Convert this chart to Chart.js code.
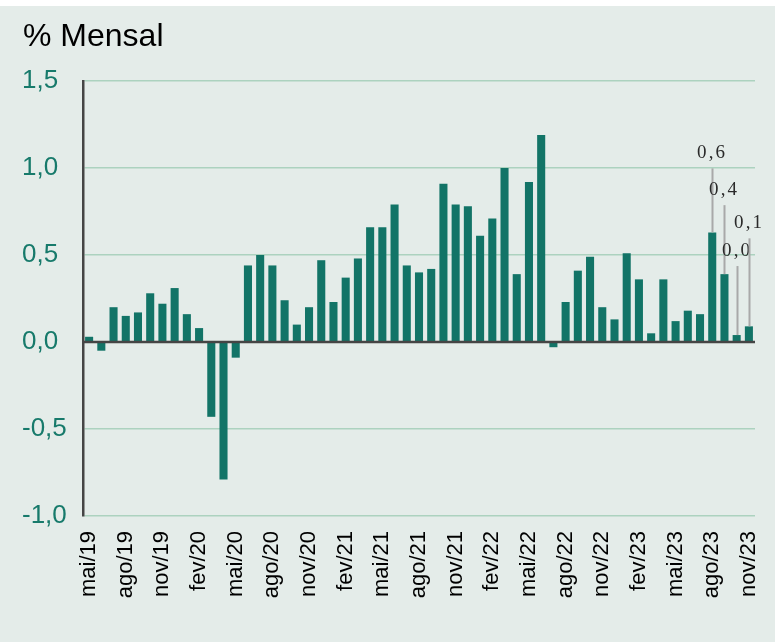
<!DOCTYPE html>
<html><head><meta charset="utf-8">
<script src="https://cdn.jsdelivr.net/npm/chart.js@4/dist/chart.umd.min.js"></script>
<style>html,body{margin:0;padding:0;background:#fff;overflow:hidden}#wrap{width:775px;height:642px}</style>
</head><body><div id="wrap"><canvas id="c" width="775" height="642"></canvas></div>
<script>
const months = [
  'mai/19','jun/19','jul/19','ago/19','set/19','out/19','nov/19','dez/19',
  'jan/20','fev/20','mar/20','abr/20','mai/20','jun/20','jul/20','ago/20','set/20','out/20','nov/20','dez/20',
  'jan/21','fev/21','mar/21','abr/21','mai/21','jun/21','jul/21','ago/21','set/21','out/21','nov/21','dez/21',
  'jan/22','fev/22','mar/22','abr/22','mai/22','jun/22','jul/22','ago/22','set/22','out/22','nov/22','dez/22',
  'jan/23','fev/23','mar/23','abr/23','mai/23','jun/23','jul/23','ago/23','set/23','out/23','nov/23'
];
const monthlyChange = [
  0.03, -0.05, 0.20, 0.15, 0.17, 0.28, 0.22, 0.31,
  0.16, 0.08, -0.43, -0.79, -0.09, 0.44, 0.50, 0.44, 0.24, 0.10, 0.20, 0.47,
  0.23, 0.37, 0.48, 0.66, 0.66, 0.79, 0.44, 0.40, 0.42, 0.91, 0.79, 0.78,
  0.61, 0.71, 1.00, 0.39, 0.92, 1.19, -0.03, 0.23, 0.41, 0.49, 0.20, 0.13,
  0.51, 0.36, 0.05, 0.36, 0.12, 0.18, 0.16, 0.63, 0.39, 0.04, 0.09
];
const shownTickMonths = ['mai/19','ago/19','nov/19','fev/20','mai/20','ago/20','nov/20','fev/21','mai/21','ago/21','nov/21','fev/22','mai/22','ago/22','nov/22','fev/23','mai/23','ago/23','nov/23'];
const labeledMonths = ['ago/23','set/23','out/23','nov/23'];
const yMin = -1.0, yMax = 1.5, yStep = 0.5;

const fmt = v => v.toFixed(1).replace('.', ',');

const bgPlugin = {
  id: 'bg',
  beforeDraw(chart) {
    const ctx = chart.ctx;
    ctx.save();
    ctx.fillStyle = '#ffffff';
    ctx.fillRect(0, 0, chart.width, chart.height);
    ctx.fillStyle = '#e4ece9';
    ctx.fillRect(0, 6, chart.width, chart.height - 6);
    ctx.fillStyle = '#000';
    ctx.font = '32px "Liberation Sans", Arial, sans-serif';
    ctx.textBaseline = 'alphabetic';
    ctx.textAlign = 'left';
    ctx.fillText('% Mensal', 23, 46);
    ctx.restore();
  }
};

const zeroPlugin = {
  id: 'zeroLine',
  afterDatasetsDraw(chart) {
    const {ctx, chartArea, scales} = chart;
    const y = scales.y.getPixelForValue(0);
    ctx.save();
    ctx.strokeStyle = '#454545';
    ctx.lineWidth = 2.5;
    ctx.beginPath();
    ctx.moveTo(chartArea.left, y);
    ctx.lineTo(chartArea.right, y);
    ctx.stroke();
    ctx.restore();
  }
};

const labelPlugin = {
  id: 'leaderLabels',
  afterDatasetsDraw(chart, args, opts) {
    const ctx = chart.ctx;
    const meta = chart.getDatasetMeta(0);
    ctx.save();
    labeledMonths.forEach((m, k) => {
      const i = months.indexOf(m);
      const bar = meta.data[i];
      const x = Math.round(bar.x) + 0.5;
      const yTop = bar.y;
      const lineTop = yTop - opts.lengths[k];
      ctx.strokeStyle = '#a9a9a9';
      ctx.lineWidth = 2;
      ctx.beginPath();
      ctx.moveTo(x, yTop);
      ctx.lineTo(x, lineTop);
      ctx.stroke();
      const txt = fmt(monthlyChange[i]);
      ctx.font = '19px "Liberation Serif", "Times New Roman", serif';
      ctx.fillStyle = '#2a2a2a';
      ctx.textBaseline = 'alphabetic';
      ctx.textAlign = 'left';
      const sp = 2.2;
      const chars = txt.split('');
      const widths = chars.map(c => ctx.measureText(c).width);
      const total = widths.reduce((a, b) => a + b, 0) + sp * (chars.length - 1);
      let cx = x - 1.5 - total / 2;
      chars.forEach((c, j) => { ctx.fillText(c, cx, lineTop - 10); cx += widths[j] + sp; });
    });
    ctx.restore();
  }
};

new Chart(document.getElementById('c'), {
  type: 'bar',
  data: {
    labels: months,
    datasets: [{
      data: monthlyChange,
      backgroundColor: '#127467',
      borderWidth: 0,
      categoryPercentage: 1.0,
      barPercentage: 0.66
    }]
  },
  options: {
    responsive: false,
    devicePixelRatio: 1,
    animation: false,
    layout: { padding: { left: 22, right: 20, top: 81, bottom: 0 } },
    plugins: {
      legend: { display: false },
      tooltip: { enabled: false },
      title: { display: false },
      leaderLabels: { lengths: [64, 69, 69, 88] }
    },
    scales: {
      x: {
        type: 'category',
        offset: true,
        grid: { display: false, drawTicks: false, tickLength: 0 },
        border: { display: false },
        ticks: {
          autoSkip: false,
          maxRotation: 90,
          minRotation: 90,
          padding: 15,
          color: '#000',
          font: { family: '"Liberation Sans", Arial, sans-serif', size: 22 },
          callback: (v, i) => shownTickMonths.includes(months[i]) ? months[i] : ''
        },
        afterFit: s => { s.height = 126; s.paddingLeft = 0; s.paddingRight = 0; }
      },
      y: {
        min: yMin,
        max: yMax,
        grid: {
          drawTicks: false,
          tickLength: 0,
          lineWidth: 1.5,
          color: ctx => (ctx.tick && ctx.tick.value === 0) ? 'rgba(0,0,0,0)' : '#acd2bf'
        },
        border: { display: true, color: '#454545', width: 2.5 },
        ticks: {
          stepSize: yStep,
          crossAlign: 'far',
          padding: 8,
          color: '#177a6b',
          font: { family: '"Liberation Sans", Arial, sans-serif', size: 26 },
          callback: v => fmt(v)
        },
        afterFit: s => { s.width = 61; s.paddingTop = 0; s.paddingBottom = 0; }
      }
    }
  },
  plugins: [bgPlugin, zeroPlugin, labelPlugin]
});
</script>
</body></html>
